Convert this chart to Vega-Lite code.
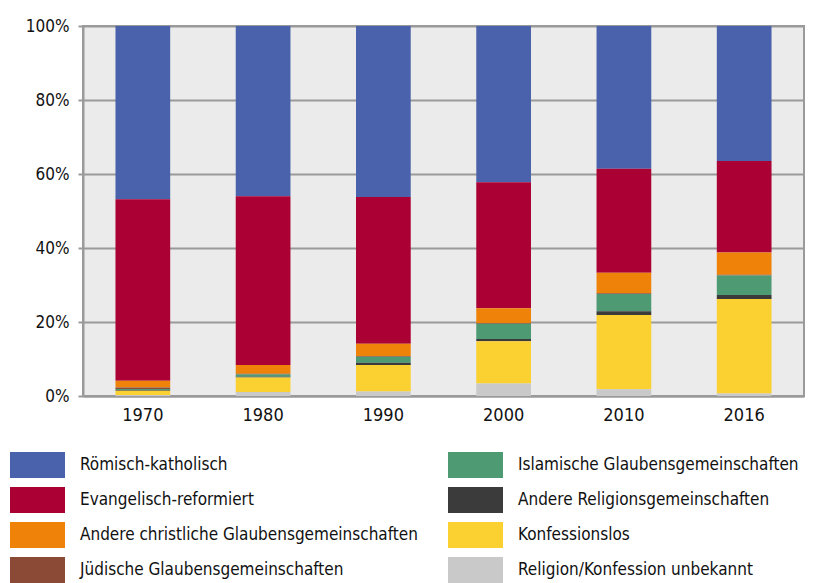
{
  "$schema": "https://vega.github.io/schema/vega-lite/v6.json",
  "width": 721,
  "height": 370,
  "autosize": {"type": "none"},
  "padding": {"left": 83, "top": 26, "right": 9, "bottom": 187},
  "background": "white",
  "data": {
    "values": [
      {"Jahr": "1970", "Religion": "Römisch-katholisch", "Anteil": 46.8},
      {"Jahr": "1970", "Religion": "Evangelisch-reformiert", "Anteil": 49.1},
      {"Jahr": "1970", "Religion": "Andere christliche Glaubensgemeinschaften", "Anteil": 1.8},
      {"Jahr": "1970", "Religion": "Jüdische Glaubensgemeinschaften", "Anteil": 0.4},
      {"Jahr": "1970", "Religion": "Islamische Glaubensgemeinschaften", "Anteil": 0.3},
      {"Jahr": "1970", "Religion": "Andere Religionsgemeinschaften", "Anteil": 0.2},
      {"Jahr": "1970", "Religion": "Konfessionslos", "Anteil": 1.1},
      {"Jahr": "1970", "Religion": "Religion/Konfession unbekannt", "Anteil": 0.3},
      {"Jahr": "1980", "Religion": "Römisch-katholisch", "Anteil": 46.0},
      {"Jahr": "1980", "Religion": "Evangelisch-reformiert", "Anteil": 45.6},
      {"Jahr": "1980", "Religion": "Andere christliche Glaubensgemeinschaften", "Anteil": 2.4},
      {"Jahr": "1980", "Religion": "Jüdische Glaubensgemeinschaften", "Anteil": 0.2},
      {"Jahr": "1980", "Religion": "Islamische Glaubensgemeinschaften", "Anteil": 0.6},
      {"Jahr": "1980", "Religion": "Andere Religionsgemeinschaften", "Anteil": 0.2},
      {"Jahr": "1980", "Religion": "Konfessionslos", "Anteil": 3.9},
      {"Jahr": "1980", "Religion": "Religion/Konfession unbekannt", "Anteil": 1.1},
      {"Jahr": "1990", "Religion": "Römisch-katholisch", "Anteil": 46.2},
      {"Jahr": "1990", "Religion": "Evangelisch-reformiert", "Anteil": 39.7},
      {"Jahr": "1990", "Religion": "Andere christliche Glaubensgemeinschaften", "Anteil": 3.3},
      {"Jahr": "1990", "Religion": "Jüdische Glaubensgemeinschaften", "Anteil": 0.2},
      {"Jahr": "1990", "Religion": "Islamische Glaubensgemeinschaften", "Anteil": 1.6},
      {"Jahr": "1990", "Religion": "Andere Religionsgemeinschaften", "Anteil": 0.6},
      {"Jahr": "1990", "Religion": "Konfessionslos", "Anteil": 7.2},
      {"Jahr": "1990", "Religion": "Religion/Konfession unbekannt", "Anteil": 1.2},
      {"Jahr": "2000", "Religion": "Römisch-katholisch", "Anteil": 42.2},
      {"Jahr": "2000", "Religion": "Evangelisch-reformiert", "Anteil": 34.1},
      {"Jahr": "2000", "Religion": "Andere christliche Glaubensgemeinschaften", "Anteil": 4.0},
      {"Jahr": "2000", "Religion": "Jüdische Glaubensgemeinschaften", "Anteil": 0.2},
      {"Jahr": "2000", "Religion": "Islamische Glaubensgemeinschaften", "Anteil": 4.1},
      {"Jahr": "2000", "Religion": "Andere Religionsgemeinschaften", "Anteil": 0.6},
      {"Jahr": "2000", "Religion": "Konfessionslos", "Anteil": 11.4},
      {"Jahr": "2000", "Religion": "Religion/Konfession unbekannt", "Anteil": 3.4},
      {"Jahr": "2010", "Religion": "Römisch-katholisch", "Anteil": 38.6},
      {"Jahr": "2010", "Religion": "Evangelisch-reformiert", "Anteil": 28.1},
      {"Jahr": "2010", "Religion": "Andere christliche Glaubensgemeinschaften", "Anteil": 5.5},
      {"Jahr": "2010", "Religion": "Jüdische Glaubensgemeinschaften", "Anteil": 0.2},
      {"Jahr": "2010", "Religion": "Islamische Glaubensgemeinschaften", "Anteil": 4.7},
      {"Jahr": "2010", "Religion": "Andere Religionsgemeinschaften", "Anteil": 1.0},
      {"Jahr": "2010", "Religion": "Konfessionslos", "Anteil": 20.1},
      {"Jahr": "2010", "Religion": "Religion/Konfession unbekannt", "Anteil": 1.8},
      {"Jahr": "2016", "Religion": "Römisch-katholisch", "Anteil": 36.5},
      {"Jahr": "2016", "Religion": "Evangelisch-reformiert", "Anteil": 24.7},
      {"Jahr": "2016", "Religion": "Andere christliche Glaubensgemeinschaften", "Anteil": 6.0},
      {"Jahr": "2016", "Religion": "Jüdische Glaubensgemeinschaften", "Anteil": 0.2},
      {"Jahr": "2016", "Religion": "Islamische Glaubensgemeinschaften", "Anteil": 5.3},
      {"Jahr": "2016", "Religion": "Andere Religionsgemeinschaften", "Anteil": 1.1},
      {"Jahr": "2016", "Religion": "Konfessionslos", "Anteil": 25.5},
      {"Jahr": "2016", "Religion": "Religion/Konfession unbekannt", "Anteil": 0.7}
    ]
  },
  "transform": [
    {
      "calculate": "indexof(['Römisch-katholisch','Evangelisch-reformiert','Andere christliche Glaubensgemeinschaften','Jüdische Glaubensgemeinschaften','Islamische Glaubensgemeinschaften','Andere Religionsgemeinschaften','Konfessionslos','Religion/Konfession unbekannt'], datum.Religion)",
      "as": "Rang"
    }
  ],
  "mark": {"type": "bar"},
  "encoding": {
    "x": {
      "field": "Jahr",
      "type": "ordinal",
      "scale": {"paddingInner": 0.545, "paddingOuter": 0.27},
      "axis": {
        "title": null,
        "labelAngle": 0,
        "labelFontSize": 18,
        "labelPadding": 10,
        "ticks": false,
        "domainColor": "#9a9a9a",
        "domainWidth": 2,
        "grid": false
      }
    },
    "y": {
      "field": "Anteil",
      "type": "quantitative",
      "stack": "zero",
      "scale": {"domain": [0, 100], "nice": false},
      "axis": {
        "title": null,
        "values": [0, 20, 40, 60, 80, 100],
        "labelExpr": "datum.value + '%'",
        "labelFontSize": 17,
        "labelPadding": 9,
        "tickSize": 5,
        "tickColor": "#9a9a9a",
        "tickWidth": 2,
        "grid": true,
        "gridColor": "#9a9a9a",
        "gridWidth": 2,
        "domainColor": "#9a9a9a",
        "domainWidth": 2
      }
    },
    "order": {"field": "Rang", "type": "quantitative", "sort": "descending"},
    "color": {
      "field": "Religion",
      "type": "nominal",
      "scale": {
        "domain": [
          "Römisch-katholisch",
          "Evangelisch-reformiert",
          "Andere christliche Glaubensgemeinschaften",
          "Jüdische Glaubensgemeinschaften",
          "Islamische Glaubensgemeinschaften",
          "Andere Religionsgemeinschaften",
          "Konfessionslos",
          "Religion/Konfession unbekannt"
        ],
        "range": ["#4a62ab", "#ab0033", "#ef8208", "#8b4a35", "#4e9a73", "#3b3b3b", "#fbd031", "#c9c9c9"]
      },
      "legend": {
        "title": null,
        "orient": "none",
        "legendX": -73,
        "legendY": 426,
        "columns": 2,
        "values": [
          "Römisch-katholisch",
          "Evangelisch-reformiert",
          "Andere christliche Glaubensgemeinschaften",
          "Jüdische Glaubensgemeinschaften",
          "Islamische Glaubensgemeinschaften",
          "Andere Religionsgemeinschaften",
          "Konfessionslos",
          "Religion/Konfession unbekannt"
        ],
        "symbolType": "M-1,-0.47H1V0.47H-1Z",
        "symbolSize": 3025,
        "symbolStrokeWidth": 0,
        "symbolOpacity": 1,
        "clipHeight": 26,
        "rowPadding": 9,
        "columnPadding": 30,
        "labelFontSize": 17,
        "labelOffset": 15,
        "labelLimit": 400,
        "labelColor": "#111111"
      }
    }
  },
  "config": {
    "font": "DejaVu Sans Condensed, sans-serif",
    "view": {"fill": "#ebebeb", "stroke": "#9a9a9a", "strokeWidth": 2},
    "axis": {"labelColor": "#111111", "labelFont": "DejaVu Sans Condensed, sans-serif"},
    "legend": {"labelFont": "DejaVu Sans Condensed, sans-serif"}
  }
}
